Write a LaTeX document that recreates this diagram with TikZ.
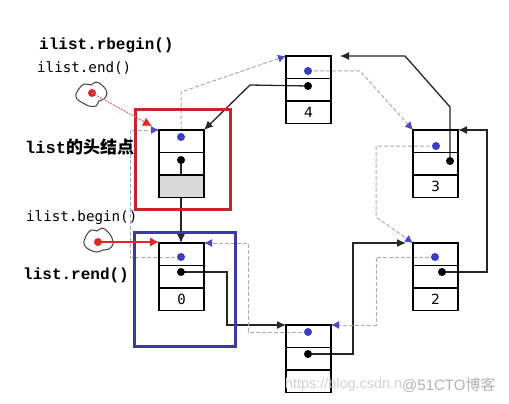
\documentclass[tikz,border=0pt]{standalone}
\usepackage{fontspec}
\setmainfont{DejaVu Sans}
\newfontfamily\monob{Liberation Mono}
\newfontfamily\monor{DejaVu Sans Mono}
\newfontfamily\cjk{Noto Sans CJK SC}
\newfontfamily\wmfont{Liberation Sans}
\usetikzlibrary{arrows.meta,calc}
\pgfdeclarelayer{bg}
\pgfsetlayers{bg,main}
\definecolor{dotblue}{HTML}{3C3CC8}
\definecolor{arrowblue}{HTML}{4848C8}
\definecolor{dashblue}{HTML}{A8A8CC}
\definecolor{boxred}{HTML}{C8242C}
\definecolor{boxblue}{HTML}{3C3CA0}
\definecolor{ptrred}{HTML}{E02828}
\newcommand\mklnode[5]{%
  \node[cell] (#1a) at (#2,#3) {};
  \node[cell,#5] (#1c) at (#2,#3+45) {#4};
  \node[cell] (#1b) at (#2,#3+22.5) {};
}
\tikzset{
  cell/.style={draw=black, line width=1.4pt, minimum width=45pt, minimum height=22.5pt,
    inner sep=0pt, outer sep=0pt, anchor=north west, font=\fontsize{14}{14}\selectfont},
  bdot/.style={circle, fill=dotblue, inner sep=0pt, minimum size=8pt},
  kdot/.style={circle, fill=black, inner sep=0pt, minimum size=8pt},
  rdot/.style={circle, fill=ptrred, inner sep=0pt, minimum size=8pt},
  nextp/.style={draw=black!85, line width=1.3pt, -{Latex[length=9pt,width=8pt]}},
  prevp/.style={draw=dashblue, line width=1pt, dash pattern=on 4pt off 2pt,
    -{Latex[length=8pt,width=8pt,color=arrowblue]}},
  lbl/.style={anchor=west, inner sep=0pt, text=black},
  cloudline/.style={draw=black!75, line width=1pt},
}
\begin{document}
\begin{tikzpicture}[x=1pt,y=-1pt]
\useasboundingbox (0,0) rectangle (509,404);

% list nodes
\mklnode{h}{159}{130}{}{fill=gray!30}
\mklnode{f}{286}{56}{4}{}
\mklnode{t}{413}{130}{3}{}
\mklnode{w}{413}{243}{2}{}
\mklnode{z}{159}{243}{\monor 0}{}
\mklnode{e}{286}{325}{}{}

% dots
\node[bdot] (hB) at (181,137) {};
\node[kdot] (hK) at (181,160) {};
\node[bdot] (fB) at (308,71) {};
\node[kdot] (fK) at (308,86) {};
\node[bdot] (tB) at (436,146) {};
\node[kdot] (tK) at (450,161) {};
\node[bdot] (wB) at (435,257) {};
\node[kdot] (wK) at (442,272) {};
\node[bdot] (zB) at (181,257) {};
\node[kdot] (zK) at (181,272) {};
\node[bdot] (eB) at (308,332) {};
\node[kdot] (eK) at (308,354) {};

% bend points
\coordinate (n1) at (227,325);
\coordinate (n2) at (353,243);
\coordinate (n3) at (487,130);
\coordinate (n4) at (450,107);
\coordinate (n5) at (405,56);
\coordinate (n6) at (250,85);
\coordinate (p1) at (360,71);
\coordinate (p2) at (376,217);
\coordinate (p3) at (376,325);
\coordinate (p4) at (248,243);
\coordinate (p5) at (130,130);
\coordinate (p6) at (181,92);

\begin{pgfonlayer}{bg}
\fill[white] (0,0) rectangle (509,404);
% next pointers
\draw[nextp] (hK.center) -- (hK.center |- za.north);
\draw[nextp] (zK.center) -| (n1) -- (ea.north west);
\draw[nextp, shorten >=7pt] (eK.center) -| (n2) -- (wa.north west);
\draw[nextp] (wK.center) -| (n3) -- (ta.north east);
\draw[nextp, shorten >=9pt] (tK.center) -- (n4) -- (n5) -- (fa.north east);
\draw[nextp] (fK.center) -- (n6) -- (ha.north east);
% prev pointers
\draw[prevp] (fB.center) -- (p1) -- (ta.north west);
\draw[prevp] (tB.center) -| (p2) -- (wa.north west);
\draw[prevp] (wB.center) -| (p3) -- (ea.north east);
\draw[prevp] (eB.center) -| (p4) -- (za.north east);
\draw[prevp] (zB.center) -| (p5) -- (ha.north west);
\draw[prevp] (hB.center) -- (p6) -- (fa.north west);
\end{pgfonlayer}

% boxes
\draw[boxred, line width=3pt] (135,109) rectangle (230,209);
\draw[boxblue, line width=3pt] (134,232) rectangle (235,346);

% clouds and iterators
\draw[cloudline] plot[smooth cycle, tension=0.7] coordinates
  {(78,90) (84,84) (91,85) (96,82) (103,86) (107,93) (104,99) (99,101) (96,106) (89,106) (83,103) (77,99) (76,94)};
\draw[cloudline] plot[smooth cycle, tension=0.7] coordinates
  {(86,236) (91,230) (97,231) (102,228) (108,232) (112,238) (113,244) (109,249) (103,250) (97,252) (90,250) (85,246) (84,241)};
\node[rdot] (r1) at (92,93) {};
\node[rdot] (r2) at (98,242) {};
\draw[draw=ptrred!70, line width=1pt, dash pattern=on 2pt off 1pt, shorten >=8pt,
  -{Latex[length=9pt,width=9pt,color=ptrred]}] (r1.center) -- (ha.north west);
\draw[draw=ptrred, line width=1.1pt, -{Latex[length=9pt,width=9pt]}] (r2.center) -- (r2.center -| za.west);

% labels
\node[lbl, font=\monob\bfseries\fontsize{16}{16}\selectfont] (L1) at (39,45) {ilist.rbegin()};
\node[lbl, font=\monor\fontsize{14.2}{14.2}\selectfont] (L2) at (37,68) {ilist.end()};
\node[lbl, font=\monob\bfseries\fontsize{17}{17}\selectfont] (L3) at (25,147) {list{\cjk 的头结点}};
\node[lbl, font=\monor\fontsize{14.2}{14.2}\selectfont] (L4) at (26,218) {ilist.begin()};
\node[lbl, font=\monob\bfseries\fontsize{16}{16}\selectfont] (L5) at (23,275) {list.rend()};

% watermark
\node[lbl, text=black!18, font=\wmfont\fontsize{14.4}{14.4}\selectfont] (W1) at (285,385) {https://blog.csdn.n};
\node[lbl, text=black!30, font=\wmfont\fontsize{15}{15}\selectfont] (W2) at (402,385) {@51CTO{\cjk 博客}};
\end{tikzpicture}
\end{document}
